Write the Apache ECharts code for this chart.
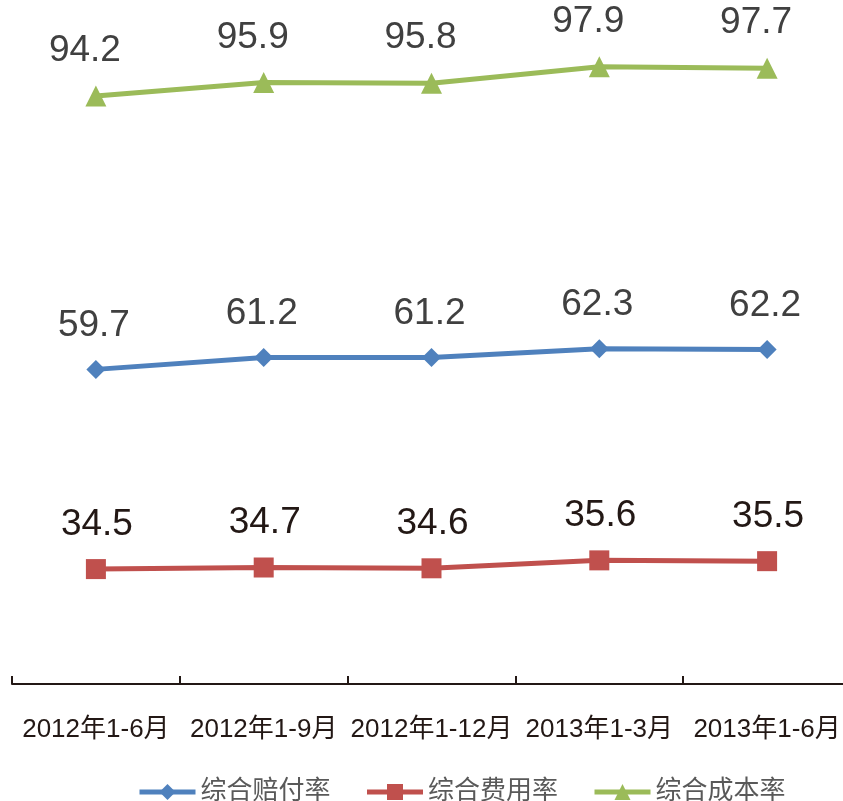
<!DOCTYPE html>
<html>
<head>
<meta charset="utf-8">
<script src="https://cdn.jsdelivr.net/npm/echarts@6/dist/echarts.min.js"></script>
<style>
  html, body { margin: 0; padding: 0; background: #fff; }
  #chart { width: 843px; height: 801px; }
</style>
</head>
<body>
<div id="chart"></div>
<script>
var categories = ['2012年1-6月', '2012年1-9月', '2012年1-12月', '2013年1-3月', '2013年1-6月'];
var seriesNames = ['综合赔付率', '综合费用率', '综合成本率'];
var lossRatio = [59.7, 61.2, 61.2, 62.3, 62.2];
var expenseRatio = [34.5, 34.7, 34.6, 35.6, 35.5];
var combinedRatio = [94.2, 95.9, 95.8, 97.9, 97.7];

var fontFamily = '"Liberation Sans", Arial, "Noto Sans CJK SC", sans-serif';

function lineSeries (name, data, color, symbol, size, labelColor, dx) {
  return {
    name: name,
    type: 'line',
    data: data,
    symbol: symbol,
    symbolSize: size,
    lineStyle: { color: color, width: 5 },
    itemStyle: { color: color },
    label: {
      show: true,
      position: 'top',
      distance: 16,
      offset: [dx, 0],
      fontSize: 37,
      fontFamily: fontFamily,
      color: labelColor
    }
  }
}

var chart = echarts.init(document.getElementById('chart'));
chart.setOption({
  animation: false,
  backgroundColor: '#fff',
  grid: { left: 12, width: 839, top: 50, bottom: 117, containLabel: false, outerBoundsMode: 'none' },
  legend: {
    left: 132,
    top: 774,
    itemWidth: 56,
    itemHeight: 20,
    itemGap: 34,
    lineStyle: { width: 5 },
    textStyle: { fontSize: 26, color: '#595959', fontFamily: fontFamily },
    data: seriesNames
  },
  xAxis: {
    type: 'category',
    data: categories,
    axisLine: { lineStyle: { color: '#231815', width: 2 } },
    axisTick: { show: true, inside: true, length: 8, lineStyle: { color: '#231815', width: 2 } },
    axisLabel: { margin: 33, fontSize: 26, color: '#231815', fontFamily: fontFamily, interval: 0 }
  },
  yAxis: {
    type: 'value',
    min: 20,
    max: 100,
    show: false
  },
  series: [
    lineSeries(seriesNames[0], lossRatio, '#4F81BD', 'diamond', 19, '#404040', -2),
    lineSeries(seriesNames[1], expenseRatio, '#C0504D', 'rect', 20, '#231815', 1),
    lineSeries(seriesNames[2], combinedRatio, '#9BBB59', 'triangle', 21, '#404040', -11)
  ]
});
</script>
</body>
</html>
